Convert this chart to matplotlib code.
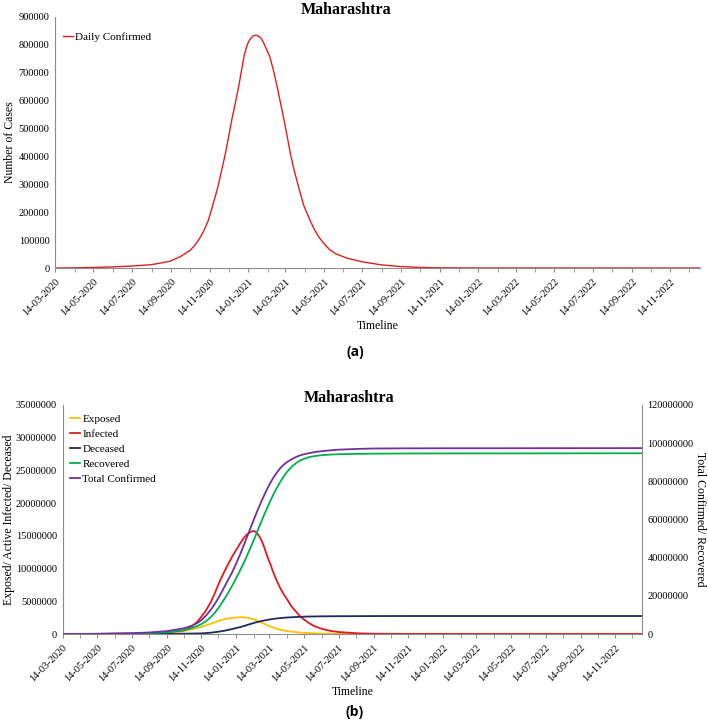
"""Maharashtra: daily confirmed (a) and SEIR-style compartments (b)."""
import matplotlib.pyplot as plt
import matplotlib.dates as mdates
import numpy as np

plt.rcParams['font.family'] = ['Liberation Serif', 'DejaVu Serif']

# (a) daily confirmed cases
daily_dates = ["2020-03-14", "2020-04-14", "2020-05-14", "2020-06-14", "2020-07-14",
               "2020-08-14", "2020-09-12", "2020-09-28", "2020-10-14", "2020-10-21",
               "2020-10-28", "2020-11-04", "2020-11-12", "2020-11-19", "2020-11-27",
               "2020-12-03", "2020-12-09", "2020-12-14", "2020-12-19", "2020-12-25",
               "2020-12-30", "2021-01-04", "2021-01-08", "2021-01-13", "2021-01-17",
               "2021-01-21", "2021-01-26", "2021-01-30", "2021-02-03", "2021-02-07",
               "2021-02-11", "2021-02-17", "2021-02-23", "2021-03-01", "2021-03-06",
               "2021-03-12", "2021-03-17", "2021-03-22", "2021-03-28", "2021-04-04",
               "2021-04-12", "2021-04-22", "2021-04-29", "2021-05-06", "2021-05-14",
               "2021-05-23", "2021-06-02", "2021-06-20", "2021-07-14", "2021-08-14",
               "2021-09-14", "2021-10-14", "2021-11-14", "2022-01-14", "2022-12-31"]
daily_confirmed = [0, 500, 2000, 4000, 7000,
                   12000, 24000, 40000, 63000, 80000,
                   102000, 130000, 171000, 225000, 290000,
                   350000, 410000, 470000, 530000, 595000,
                   650000, 715000, 765000, 803000, 820000,
                   831000, 835000, 832000, 825000, 810000,
                   790000, 760000, 710000, 650000, 595000,
                   530000, 470000, 410000, 350000, 290000,
                   225000, 171000, 138000, 111000, 88000,
                   66000, 51000, 35000, 22000, 11000,
                   5000, 2000, 600, 100, 0]

# (b) compartments, millions
comp_dates = ["2020-03-14", "2020-05-14", "2020-07-14", "2020-08-14", "2020-09-14",
              "2020-10-14", "2020-10-22", "2020-10-30", "2020-11-07", "2020-11-14",
              "2020-11-22", "2020-11-30", "2020-12-07", "2020-12-14", "2020-12-22",
              "2020-12-30", "2021-01-07", "2021-01-14", "2021-01-21", "2021-01-27",
              "2021-02-01", "2021-02-05", "2021-02-10", "2021-02-14", "2021-02-18",
              "2021-02-21", "2021-02-25", "2021-03-01", "2021-03-05", "2021-03-10",
              "2021-03-15", "2021-03-20", "2021-03-26", "2021-04-02", "2021-04-08",
              "2021-04-14", "2021-04-22", "2021-05-01", "2021-05-07", "2021-05-14",
              "2021-05-22", "2021-06-01", "2021-06-14", "2021-06-28", "2021-07-14",
              "2021-08-18", "2021-09-14", "2021-11-14", "2022-12-31"]
exposed = [0, 0.01, 0.04, 0.08, 0.18,
           0.45, 0.6, 0.75, 0.92, 1.1,
           1.32, 1.55, 1.78, 2.0, 2.2,
           2.35, 2.46, 2.52, 2.55, 2.55,
           2.5, 2.45, 2.36, 2.25, 2.12,
           2.0, 1.86, 1.7, 1.55, 1.35,
           1.17, 1.0, 0.82, 0.65, 0.55,
           0.46, 0.36, 0.28, 0.22, 0.18,
           0.14, 0.1, 0.06, 0.04, 0.02,
           0.01, 0, 0, 0]
infected = [0, 0.02, 0.07, 0.15, 0.3,
            0.55, 0.85, 1.3, 1.9, 2.65,
            3.6, 4.8, 6.1, 7.6, 9.1,
            10.5, 11.8, 12.8, 13.8, 14.6,
            15.1, 15.4, 15.65, 15.75, 15.6,
            15.3, 14.8, 14.1, 13.2, 11.9,
            10.8, 9.6, 8.3, 7.0, 6.1,
            5.3, 4.2, 3.3, 2.7, 2.2,
            1.7, 1.2, 0.8, 0.5, 0.3,
            0.1, 0.04, 0.01, 0]
deceased = [0, 0.005, 0.01, 0.02, 0.03,
            0.05, 0.06, 0.07, 0.085, 0.1,
            0.14, 0.2, 0.27, 0.35, 0.46,
            0.6, 0.75, 0.9, 1.05, 1.2,
            1.33, 1.44, 1.57, 1.68, 1.77,
            1.84, 1.92, 2.0, 2.07, 2.15,
            2.23, 2.3, 2.37, 2.43, 2.48,
            2.52, 2.56, 2.6, 2.63, 2.65,
            2.67, 2.68, 2.7, 2.71, 2.72,
            2.73, 2.74, 2.75, 2.75]
recovered = [0, 0.05, 0.2, 0.45, 0.9,
             2.0, 2.6, 3.3, 4.2, 5.2,
             6.7, 8.7, 10.9, 13.6, 17.1,
             21.0, 25.2, 29.1, 33.2, 36.9,
             40.1, 42.8, 46.2, 49.0, 51.9,
             54.1, 57.0, 59.9, 62.7, 66.1,
             69.4, 72.5, 76.0, 79.7, 82.5,
             85.0, 87.6, 89.8, 90.9, 91.8,
             92.6, 93.2, 93.7, 94.0, 94.2,
             94.4, 94.5, 94.6, 94.7]
total_confirmed = [0, 0.1, 0.4, 0.8, 1.5,
                   3.0, 3.7, 4.6, 5.8, 7.3,
                   9.6, 12.5, 15.5, 18.9, 23.2,
                   27.8, 32.2, 36.8, 41.5, 46.0,
                   49.8, 52.8, 56.6, 59.6, 62.6,
                   64.8, 67.6, 70.3, 72.9, 76.0,
                   78.9, 81.5, 84.2, 86.9, 88.7,
                   90.1, 91.6, 92.9, 93.6, 94.2,
                   94.7, 95.3, 95.8, 96.2, 96.6,
                   97.0, 97.2, 97.3, 97.4]

x_start, x_end = np.datetime64("2020-03-14"), np.datetime64("2022-12-31")
grey = "#8c8c8c"


def style_axis(ax):
    ax.set_xlim(x_start, x_end)
    ax.xaxis.set_major_locator(mdates.MonthLocator(bymonthday=14, interval=2))
    ax.xaxis.set_minor_locator(mdates.MonthLocator(bymonthday=14))
    ax.xaxis.set_major_formatter(mdates.DateFormatter("%d-%m-%Y"))
    for lbl in ax.get_xticklabels():
        lbl.set_rotation(45)
        lbl.set_ha("right")
        lbl.set_rotation_mode("anchor")
    ax.tick_params(axis="x", which="both", length=3, color=grey, labelsize=7.5)
    ax.tick_params(axis="y", length=0, labelsize=7.5, pad=4)
    ax.spines[["top", "right"]].set_visible(False)
    for s in ("left", "bottom"):
        ax.spines[s].set_color(grey)


fig = plt.figure(figsize=(7.08, 7.22), dpi=100)

# (a)
ax = fig.add_axes([55 / 708, 1 - 268 / 722, 645 / 708, 251 / 722])
ax.plot(np.array(daily_dates, dtype="datetime64[D]"), daily_confirmed,
        color="#e0201b", lw=1.0, label="Daily Confirmed")
ax.set_ylim(0, 900000)
ax.set_yticks(np.arange(0, 900001, 100000))
style_axis(ax)
ax.set_ylabel("Number of Cases", fontsize=8.5, labelpad=2)
ax.set_xlabel("Timeline", fontsize=8.5, labelpad=2)
ax.legend(loc="upper left", bbox_to_anchor=(0.0, 0.97), frameon=False,
          fontsize=8, handlelength=0.9, handletextpad=0.2, borderaxespad=0.3)
fig.text(346 / 708, 1 - 10 / 722, "Maharashtra", ha="center", va="center",
         fontsize=11.5, fontweight="bold")
fig.text(355 / 708, 1 - 352 / 722, "(a)", ha="center", va="center",
         fontsize=10, fontweight="bold", family="Open Sans")

# (b)
d = np.array(comp_dates, dtype="datetime64[D]")
m = 1e6
ax = fig.add_axes([62.5 / 708, 1 - 634 / 722, 579.5 / 708, 229 / 722])
ax2 = ax.twinx()
h1, = ax.plot(d, np.array(exposed) * m, color="#ffc000", lw=1.3, label="Exposed")
h2, = ax.plot(d, np.array(infected) * m, color="#e31a1c", lw=1.3, label="Infected")
h3, = ax.plot(d, np.array(deceased) * m, color="#1f2a5c", lw=1.3, label="Deceased")
h4, = ax2.plot(d, np.array(recovered) * m, color="#00b050", lw=1.3, label="Recovered")
h5, = ax2.plot(d, np.array(total_confirmed) * m, color="#7030a0", lw=1.3,
               label="Total Confirmed")
ax.set_ylim(0, 35000000)
ax.set_yticks(np.arange(0, 35000001, 5000000))
ax2.set_ylim(0, 120000000)
ax2.set_yticks(np.arange(0, 120000001, 20000000))
style_axis(ax)
ax2.spines[["top", "left", "bottom"]].set_visible(False)
ax2.spines["right"].set_color(grey)
ax2.tick_params(axis="y", length=0, labelsize=7.5, pad=4)
ax.yaxis.set_major_formatter(plt.FuncFormatter(lambda v, p: f"{v:.0f}"))
ax2.yaxis.set_major_formatter(plt.FuncFormatter(lambda v, p: f"{v:.0f}"))
ax.set_ylabel("Exposed/ Active Infected/ Deceased", fontsize=8.5, labelpad=0.5)
ax2.set_ylabel("Total Confirmed/ Recovered", fontsize=8.5, rotation=270, labelpad=9)
ax.set_xlabel("Timeline", fontsize=8.5, labelpad=2)
ax2.legend(handles=[h1, h2, h3, h4, h5], loc="upper left", bbox_to_anchor=(0.0, 0.995),
           frameon=False, fontsize=8, handlelength=0.9, handletextpad=0.2,
           labelspacing=0.48, borderaxespad=0.3)
fig.text(349 / 708, 1 - 398 / 722, "Maharashtra", ha="center", va="center",
         fontsize=11.5, fontweight="bold")
fig.text(355 / 708, 1 - 712 / 722, "(b)", ha="center", va="center",
         fontsize=10, fontweight="bold", family="Open Sans")

fig.savefig("out.png", dpi=100)
